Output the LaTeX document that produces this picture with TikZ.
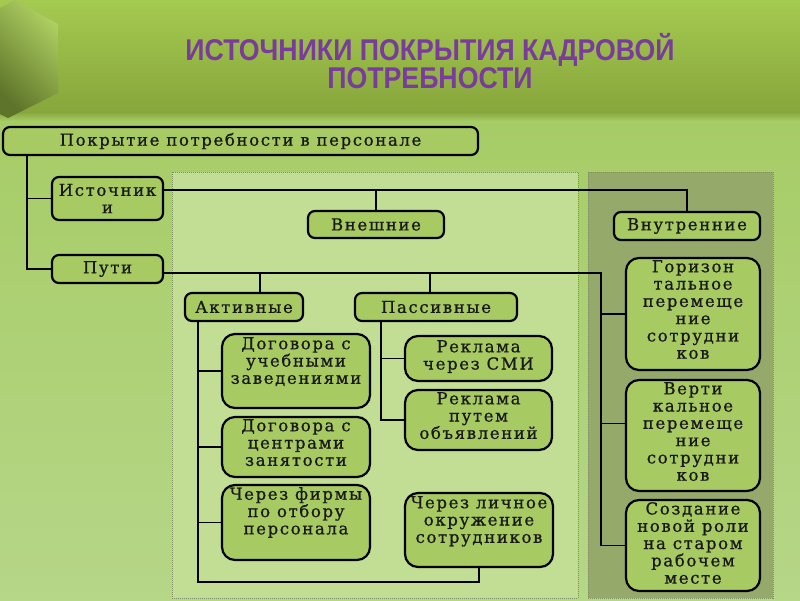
\documentclass[tikz,border=0pt]{standalone}
\usepackage{fontspec}
\usetikzlibrary{fit}
\setmainfont{DejaVu Serif}
\newfontfamily\boxfont[LetterSpace=10,FakeBold=0.8]{DejaVu Serif}
\newfontfamily\titlefont{Liberation Sans}
\definecolor{bgtop}{HTML}{A6CC66}
\definecolor{bgbot}{HTML}{B6D688}
\definecolor{bantop}{HTML}{A5CA50}
\definecolor{banbot}{HTML}{87A63C}
\definecolor{lightpanel}{HTML}{C2DD94}
\definecolor{darkpanel}{HTML}{94A96A}
\definecolor{boxfill}{HTML}{A8CA62}
\definecolor{titlecol}{HTML}{7A3C9C}
\definecolor{dotcol}{HTML}{7E8F62}
\tikzset{
  box/.style={draw=black, line width=2.2pt, fill=boxfill, rounded corners=7pt, inner sep=0pt},
  bigbox/.style={box, rounded corners=13pt},
  txt/.style={font=\boxfont\fontsize{16.5}{17.3}\selectfont, align=center, inner sep=1pt, text=black!90},
  conn/.style={draw=black, line width=1.5pt},
  panel/.style={draw=dotcol, densely dotted, line width=1pt}
}
\newcommand\bx[8]{%
  \node[#8, fit={(#2,#3) (#4,#5)}] (#1) {};
  \node[txt, anchor=north] (#1t) at ({(#2+#4)/2},#6) {#7};}
\begin{document}
\begin{tikzpicture}[x=1pt,y=-1pt]
\useasboundingbox (0,0) rectangle (800,600);
% background
\shade[top color=bgtop, bottom color=bgbot] (0,115) rectangle (800,600);
\shade[top color=bantop, bottom color=banbot] (0,0) rectangle (800,112);
\shade[top color=banbot, bottom color=bgtop] (0,112) rectangle (800,121);
% hexagon
\shade[left color=black!30!banbot, right color=bantop!90!white, shading angle=135]
  (0,8) -- (15,0) -- (58,24) -- (58,93) -- (8,118) -- (0,114) -- cycle;
% title
\node[font=\titlefont\bfseries\fontsize{30}{25}\selectfont, text=titlecol, align=center, xscale=0.89] (title) at (430,61)
  {ИСТОЧНИКИ ПОКРЫТИЯ КАДРОВОЙ\\ПОТРЕБНОСТИ};
% panels
\fill[lightpanel] (172,172) rectangle (578,598);
\draw[panel] (172,172) rectangle (578,598);
\fill[darkpanel] (588,172) rectangle (773,598);
\draw[panel] (588,172) rectangle (773,598);
% boxes
\node[box, fit={(3,127) (478,155)}] (top) {};
\node[txt] at (top.center) {Покрытие потребности в персонале};
\node[box, fit={(52,177) (163,220)}] (ist) {};
\node[txt] at (ist.center) {Источник\\и};
\node[box, fit={(52,255) (163,283)}] (pti) {};
\node[txt] at (pti.center) {Пути};
\node[box, fit={(308,211) (444,238)}] (vnesh) {};
\node[txt] at (vnesh.center) {Внешние};
\node[box, fit={(614,212) (760,240)}] (vnutr) {};
\node[txt] at (vnutr.center) {Внутренние};
\node[box, fit={(185,293) (303,321)}] (akt) {};
\node[txt] at (akt.center) {Активные};
\node[box, fit={(355,293) (517,321)}] (pas) {};
\node[txt] at (pas.center) {Пассивные};
\bx{dog}{222}{334}{370}{408}{336}{Договора с\\учебными\\заведениями}{bigbox}
\bx{cen}{222}{417}{370}{477}{418}{Договора с\\центрами\\занятости}{bigbox}
\bx{firm}{222}{485}{370}{560}{486}{Через фирмы\\по отбору\\персонала}{bigbox}
\bx{smi}{405}{336}{552}{381}{339}{Реклама\\через СМИ}{bigbox}
\bx{obj}{405}{390}{552}{450}{391}{Реклама\\путем\\объявлений}{bigbox}
\bx{lich}{405}{493}{553}{567}{495}{Через личное\\окружение\\сотрудников}{bigbox}
\bx{gor}{626}{258}{760}{370}{259}{Горизон\\тальное\\перемеще\\ние\\сотрудни\\ков}{bigbox}
\bx{ver}{626}{380}{760}{491}{381}{Верти\\кальное\\перемеще\\ние\\сотрудни\\ков}{bigbox}
\bx{soz}{626}{500}{760}{591}{501}{Создание\\новой роли\\на старом\\рабочем\\месте}{bigbox}
% helper coordinates
\coordinate (xa) at (27,0);
\coordinate (ie) at (163,190);
\coordinate (pe) at (163,273);
\coordinate (xr) at (601,0);
\coordinate (xakt) at (198,0);
\coordinate (xpas) at (381,0);
\coordinate (bot) at (0,582);
% connectors
\draw[conn] (xa |- top.south) |- (pti.west);
\draw[conn] (xa |- ist.west) -- (ist.west);
\draw[conn] (ie) -| (vnutr.north);
\draw[conn] (vnesh.north) -- (vnesh.north |- ie);
\draw[conn] (pe) -| (xr |- soz.west) -- (soz.west);
\draw[conn] (xr |- gor.west) -- (gor.west);
\draw[conn] ([yshift=12pt]ver.west -| xr) -- ([yshift=12pt]ver.west);
\draw[conn] ([xshift=16pt]akt.north) -- ([xshift=16pt]akt.north |- pe);
\draw[conn] ([xshift=-6pt]pas.north) -- ([xshift=-6pt]pas.north |- pe);
\draw[conn] (xakt |- akt.south) -- (xakt |- bot) -| (lich.south);
\draw[conn] (xakt |- dog.west) -- (dog.west);
\draw[conn] (xakt |- cen.west) -- (cen.west);
\draw[conn] (xakt |- firm.west) -- (firm.west);
\draw[conn] (xpas |- pas.south) |- (obj.west);
\draw[conn] (xpas |- smi.west) -- (smi.west);
\end{tikzpicture}
\end{document}
